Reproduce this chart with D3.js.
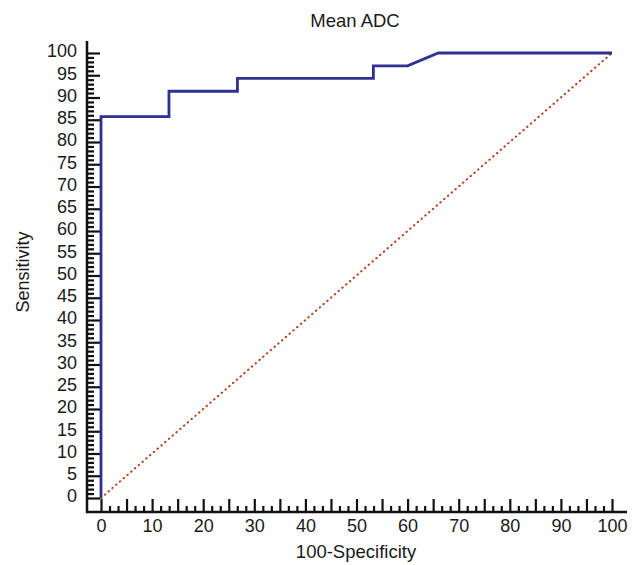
<!DOCTYPE html>
<html>
<head>
<meta charset="utf-8">
<script src="https://cdn.jsdelivr.net/npm/d3@7"></script>
<style>
  body { margin: 0; background: #fff; }
  text { font-family: "Liberation Sans", Arial, sans-serif; fill: #1a1a1a; }
</style>
</head>
<body>
<div id="chart"></div>
<script>
// ROC curve points (100-Specificity, Sensitivity)
const rocX = [0, 0, 13.3, 13.3, 26.7, 26.7, 53.3, 53.3, 60, 66, 100];
const rocY = [0, 85.7, 85.7, 91.4, 91.4, 94.3, 94.3, 97.1, 97.1, 100, 100];
const refLine = [[0, 0], [100, 100]];

const yMajor = d3.range(0, 101, 5);
const xLabels = d3.range(0, 101, 10);

const WIDTH = 635, HEIGHT = 565;
const axisX = 87, axisY = 512;

const svg = d3.select('#chart')
  .append('svg')
    .attr('width', WIDTH)
    .attr('height', HEIGHT);

const x = d3.scaleLinear().domain([0, 100]).range([101, 612]);
const y = d3.scaleLinear().domain([0, 100]).range([498, 53]);

// y axis
svg.append('g')
  .attr('transform', `translate(${axisX},0)`)
  .call(d3.axisLeft(y)
    .tickValues(d3.range(0, 101, 1).filter(d => d % 5 !== 0))
    .tickSize(-7).tickSizeOuter(0).tickFormat(''));

const yAx = svg.append('g')
  .attr('transform', `translate(${axisX},0)`)
  .call(d3.axisLeft(y).tickValues(yMajor).tickSize(-13).tickSizeOuter(0).tickPadding(10));
yAx.selectAll('text').attr('dy', '0.21em').style('font-size', '18px');

// x axis
svg.append('g')
  .attr('transform', `translate(0,${axisY})`)
  .call(d3.axisBottom(x)
    .tickValues(d3.range(0, 100.01, 5 / 3).filter(d => Math.abs(d / 5 - Math.round(d / 5)) > 0.01))
    .tickSize(-6).tickSizeOuter(0).tickFormat(''));

const xAx = svg.append('g')
  .attr('transform', `translate(0,${axisY})`)
  .call(d3.axisBottom(x).tickValues(yMajor).tickSize(-13).tickSizeOuter(0).tickPadding(7)
    .tickFormat(d => xLabels.includes(d) ? d : ''));
xAx.selectAll('text').style('font-size', '18px');

svg.selectAll('.domain').remove();
svg.selectAll('.tick line').attr('stroke', '#111').attr('stroke-width', 2.2);

// axis lines
svg.append('line')
  .attr('x1', axisX).attr('x2', axisX)
  .attr('y1', 41).attr('y2', axisY + 1)
  .attr('stroke', '#111').attr('stroke-width', 2.5);
svg.append('line')
  .attr('x1', axisX - 1).attr('x2', 627)
  .attr('y1', axisY).attr('y2', axisY)
  .attr('stroke', '#111').attr('stroke-width', 2.5);

// reference diagonal
svg.append('path')
  .datum(refLine)
  .attr('d', d3.line().x(d => x(d[0])).y(d => y(d[1])))
  .attr('fill', 'none')
  .attr('stroke', '#b0401a')
  .attr('stroke-width', 2)
  .attr('stroke-linecap', 'round')
  .attr('stroke-dasharray', '0.5,4.5');

// ROC curve
svg.append('path')
  .datum(rocX.map((v, i) => [v, rocY[i]]))
  .attr('d', d3.line().x(d => x(d[0])).y(d => y(d[1])))
  .attr('fill', 'none')
  .attr('stroke', '#2e3192')
  .attr('stroke-width', 2.8);

// titles
svg.append('text')
  .attr('x', 355).attr('y', 27)
  .attr('text-anchor', 'middle')
  .style('font-size', '18.5px')
  .text('Mean ADC');

svg.append('text')
  .attr('x', 356).attr('y', 558)
  .attr('text-anchor', 'middle')
  .style('font-size', '18.5px')
  .text('100-Specificity');

svg.append('text')
  .attr('transform', 'translate(29,272) rotate(-90)')
  .attr('text-anchor', 'middle')
  .style('font-size', '18px')
  .text('Sensitivity');
</script>
</body>
</html>
